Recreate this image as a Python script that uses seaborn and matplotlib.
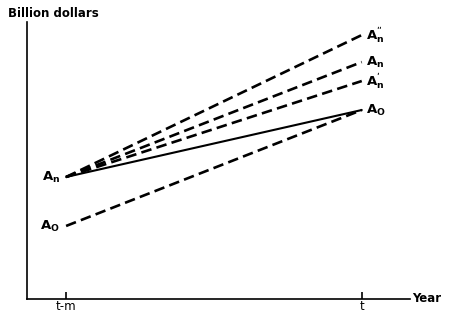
import matplotlib
matplotlib.use("Agg")
import matplotlib.pyplot as plt
import pandas as pd
import seaborn as sns

# Two time points on the x axis
periods = ["t-m", "t"]
period_pos = [0, 1]

# Lines: start value at t-m, end value at t (arbitrary billion-dollar units)
line_names = ["An2", "An", "An1", "AO_actual", "AO"]
start_vals = [12.2, 12.2, 12.2, 12.2, 7.3]
end_vals = [26.4, 23.7, 21.8, 18.9, 18.9]

# Point labels
left_labels = [r"$\mathregular{A_n}$", r"$\mathregular{A_O}$"]
left_vals = [12.2, 7.3]
right_labels = ["$\\mathregular{A_n^{\u02BA}}$", r"$\mathregular{A_n}$",
                "$\\mathregular{A_n^{\u02B9}}$", r"$\mathregular{A_O}$"]
right_vals = [26.4, 23.7, 21.8, 18.9]

rows = []
for name, s, e in zip(line_names, start_vals, end_vals):
    rows.append({"line": name, "x": period_pos[0], "value": s})
    rows.append({"line": name, "x": period_pos[1], "value": e})
df = pd.DataFrame(rows)

sns.set_style("white")
plt.rcParams["font.family"] = ["DejaVu Sans"]
plt.rcParams["text.color"] = "black"
plt.rcParams["xtick.color"] = "black"

fig = plt.figure(figsize=(4.51, 3.15), dpi=100)
ax = fig.add_axes([0.06, 0.051, 0.849, 0.879])

dash = (4, 2)
sns.lineplot(data=df, x="x", y="value", style="line", units="line",
             estimator=None, color="black", legend=False, ax=ax,
             dashes={"An2": dash, "An": dash, "An1": dash,
                     "AO_actual": "", "AO": dash},
             linewidth=1.9)
# solid line a bit thinner
for ln in ax.get_lines():
    if ln.get_linestyle() == "-":
        ln.set_linewidth(1.5)

ax.set_xlim(-0.132, 1.163)
ax.set_ylim(0, 27.7)
ax.set_xticks(period_pos)
ax.set_xticklabels(periods, fontsize=8.5)
ax.set_yticks([])
ax.set_xlabel("")
ax.set_ylabel("")
ax.tick_params(axis="x", direction="in", length=5, width=1.2, pad=1,
               bottom=True, labelcolor="black")
for side in ["top", "right"]:
    ax.spines[side].set_visible(False)
for side in ["left", "bottom"]:
    ax.spines[side].set_linewidth(1.2)
    ax.spines[side].set_color("black")

for lab, v in zip(left_labels, left_vals):
    ax.text(-0.02, v, lab, ha="right", va="center", fontsize=9.5,
            fontweight="bold")
for lab, v in zip(right_labels, right_vals):
    ax.text(1.015, v, lab, ha="left", va="center", fontsize=9.5,
            fontweight="bold")

fig.text(0.018, 0.958, "Billion dollars", fontsize=8.5, fontweight="bold",
         ha="left", va="center")
fig.text(0.913, 0.051, "Year", fontsize=8.5, fontweight="bold",
         ha="left", va="center")

fig.savefig("out.png", dpi=100)
